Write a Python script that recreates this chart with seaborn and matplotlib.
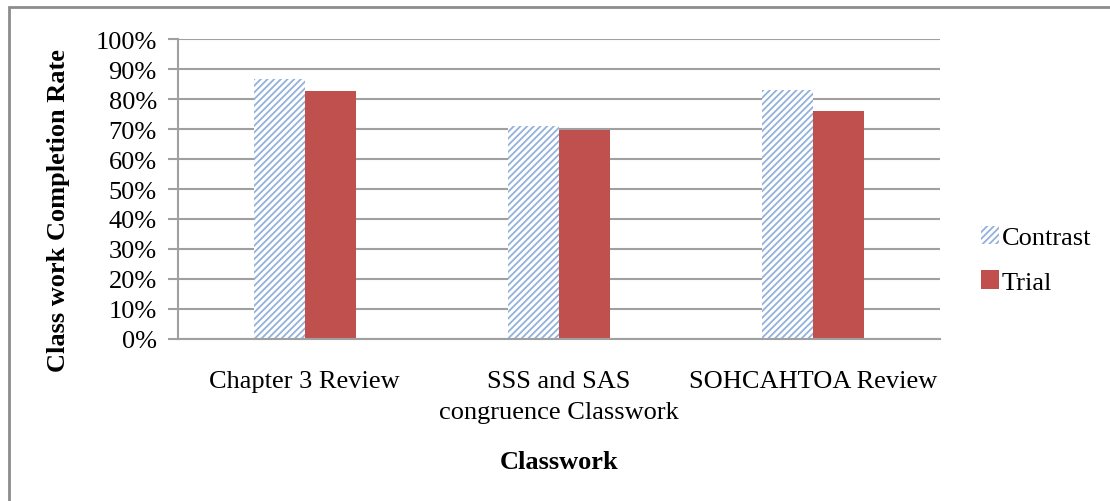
import pandas as pd
import seaborn as sns
import matplotlib.pyplot as plt
from matplotlib.patches import Rectangle, Patch

categorias = ['Chapter 3 Review', 'SSS and SAS\ncongruence Classwork', 'SOHCAHTOA Review']
contrast = [0.868, 0.709, 0.832]
trial = [0.826, 0.697, 0.761]

df = pd.DataFrame({
    'Classwork': categorias * 2,
    'Rate': contrast + trial,
    'Grupo': ['Contrast'] * 3 + ['Trial'] * 3,
})

sns.set_style('white')
plt.rcParams['font.family'] = ['Liberation Serif', 'DejaVu Serif']
plt.rcParams['hatch.linewidth'] = 1.3
plt.rcParams['text.color'] = 'black'
plt.rcParams['axes.labelcolor'] = 'black'
plt.rcParams['xtick.color'] = 'black'
plt.rcParams['ytick.color'] = 'black'

fig = plt.figure(figsize=(11.1, 5.02), dpi=100)
ax = fig.add_axes([0.160, 0.323, 0.687, 0.597])

sns.barplot(data=df, x='Classwork', y='Rate', hue='Grupo', width=0.4,
            palette={'Contrast': 'white', 'Trial': '#C0504D'}, ax=ax,
            legend=False, linewidth=0, saturation=1)

# hachura nas barras do Contrast
for barra in ax.patches[:3]:
    barra.set_facecolor('white')
    barra.set_edgecolor('#93B1DD')
    barra.set_hatch('/////')
    barra.set_linewidth(0)

ax.set_ylim(0, 1)
ax.set_yticks([i / 10 for i in range(11)])
ax.set_yticklabels([f'{i * 10}%' for i in range(11)])
ax.yaxis.grid(True, color='#A0A0A0', linewidth=1.5)
ax.set_axisbelow(True)
for lado in ['top', 'right']:
    ax.spines[lado].set_visible(False)
ax.spines['left'].set_color('#A0A0A0')
ax.spines['left'].set_linewidth(1.5)
ax.spines['bottom'].set_color('#A0A0A0')
ax.spines['bottom'].set_linewidth(1.5)
ax.tick_params(axis='y', left=True, length=7, width=1.5, color='#A0A0A0', labelcolor='black',
               labelsize=19, pad=8)
ax.tick_params(axis='x', bottom=False, labelsize=19, labelcolor='black', pad=19)
for rotulo in ax.get_xticklabels():
    rotulo.set_linespacing(1.5)

ax.set_xlabel('Classwork', fontsize=19, fontweight='bold')
ax.set_ylabel('Class work Completion Rate', fontsize=19, fontweight='bold')
ax.xaxis.set_label_coords(0.5, -0.37)
ax.yaxis.set_label_coords(-0.141, 0.433)

handles = [Patch(facecolor='white', edgecolor='#93B1DD', hatch='/////', linewidth=0, label='Contrast'),
           Patch(facecolor='#C0504D', linewidth=0, label='Trial')]
fig.legend(handles=handles, loc='center left', bbox_to_anchor=(0.862, 0.481), frameon=False,
           fontsize=19, handlelength=0.7, handleheight=0.7, handletextpad=0.1, labelspacing=0.8)

fig.add_artist(Rectangle((0.008, -0.05), 1.1, 1.034, transform=fig.transFigure,
                         fill=False, edgecolor='#8C8C8C', linewidth=2))

fig.savefig('out.png', dpi=100)
